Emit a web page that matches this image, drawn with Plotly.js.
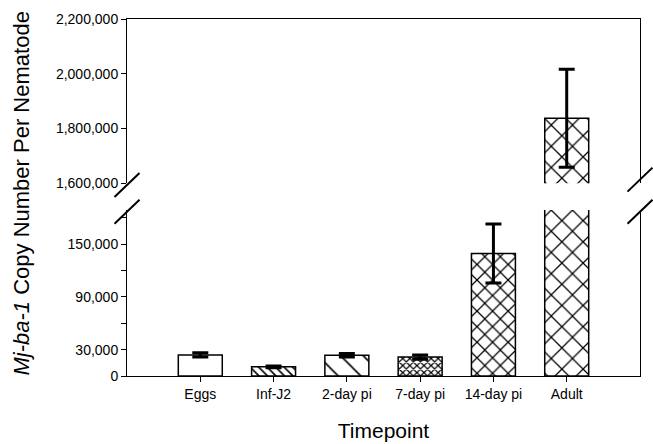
<!DOCTYPE html>
<html>
<head>
<meta charset="utf-8">
<script src="https://cdn.plot.ly/plotly-3.0.1.min.js"></script>
<style>html,body{margin:0;padding:0;background:#fff;}#chart{width:653px;height:444px;}</style>
</head>
<body>
<div id="chart"></div>
<script>
// ---- data ----
const categories = ['Eggs', 'Inf-J2', '2-day pi', '7-day pi', '14-day pi', 'Adult'];
const copies = [24000, 10500, 23500, 21500, 139500, 1837000];
const errors = [2500, 1000, 2000, 2300, 33500, 179000];
const lowerTickVals = [0, 30000, 90000, 150000];
const lowerTickText = ['0', '30,000', '90,000', '150,000'];
const lowerMinorVals = [60000, 120000, 180000];
const upperTickVals = [1600000, 1800000, 2000000, 2200000];
const upperTickText = ['1,600,000', '1,800,000', '2,000,000', '2,200,000'];

// ---- styles ----
const patShapes = ['', '\\', '\\', 'x', 'x', 'x'];
const patSizes = [8, 6, 16, 5, 11, 15];
const patSolid = [0.1, 0.27, 0.1, 0.42, 0.21, 0.16];
const FONT = 'Liberation Sans, Arial, Helvetica, sans-serif';
const lowerDomain = [0, 0.465];
const upperDomain = [0.54, 1];

function barTrace(xa, ya) {
  return {
    type: 'bar', x: categories, y: copies, xaxis: xa, yaxis: ya,
    width: 0.6, showlegend: false, hoverinfo: 'x+y',
    marker: {
      color: 'white',
      line: {color: 'black', width: 1.5},
      pattern: {shape: patShapes, size: patSizes, solidity: patSolid, fgcolor: 'black', fgopacity: 1, bgcolor: 'white', fillmode: 'overlay'}
    },
    error_y: {type: 'data', array: errors, visible: true, color: 'black', thickness: 3, width: 8}
  };
}

const data = [barTrace('x', 'y'), barTrace('x2', 'y2')];

// break marks built relative to the domains
const plotW = 513, plotH = 357;
function slash(xc, yc) {
  const dx = 12.5 / plotW, dy = 12 / plotH;
  return {type: 'line', xref: 'paper', yref: 'paper', x0: xc - dx, y0: yc - dy, x1: xc + dx, y1: yc + dy,
          line: {color: 'black', width: 2}};
}
const shapes = [
  slash(0, upperDomain[0] - 0.005), slash(0, lowerDomain[1] - 0.005),
  slash(1, upperDomain[0] + 0.01), slash(1, lowerDomain[1] - 0.005)
];

const axisCommon = {showgrid: false, zeroline: false, showline: true, linecolor: 'black', linewidth: 1,
                    ticks: 'outside', ticklen: 5, tickcolor: 'black', tickwidth: 1,
                    tickfont: {family: FONT, size: 14, color: 'black'}};

const layout = {
  width: 653, height: 444,
  margin: {l: 127, r: 13, t: 19, b: 68},
  paper_bgcolor: 'white', plot_bgcolor: 'white',
  font: {family: FONT, color: 'black'},
  bargap: 0.4,
  xaxis: Object.assign({}, axisCommon, {
    type: 'category', range: [-1, 6], anchor: 'y',
    title: {text: 'Timepoint', font: {family: FONT, size: 21, color: 'black'}, standoff: 22}
  }),
  xaxis2: Object.assign({}, axisCommon, {
    type: 'category', range: [-1, 6], anchor: 'y2', matches: 'x', side: 'top',
    ticks: '', showticklabels: false
  }),
  yaxis: Object.assign({}, axisCommon, {
    domain: lowerDomain, range: [0, 189000], anchor: 'x', mirror: true,
    tickmode: 'array', tickvals: lowerTickVals, ticktext: lowerTickText,
    minor: {tickmode: 'array', tickvals: lowerMinorVals, ticks: 'outside', ticklen: 5, tickcolor: 'black', showgrid: false}
  }),
  yaxis2: Object.assign({}, axisCommon, {
    domain: upperDomain, range: [1600000, 2200000], anchor: 'x2', mirror: true,
    tickmode: 'array', tickvals: upperTickVals, ticktext: upperTickText
  }),
  shapes: shapes,
  annotations: [{
    text: '<i>Mj-ba-1</i> Copy Number Per Nematode', textangle: -90,
    xref: 'paper', yref: 'paper', x: -0.2055, y: 0.51, xanchor: 'center', yanchor: 'middle',
    showarrow: false, font: {family: FONT, size: 22, color: 'black'}
  }]
};

Plotly.newPlot('chart', data, layout, {displayModeBar: false, staticPlot: true});
</script>
</body>
</html>
